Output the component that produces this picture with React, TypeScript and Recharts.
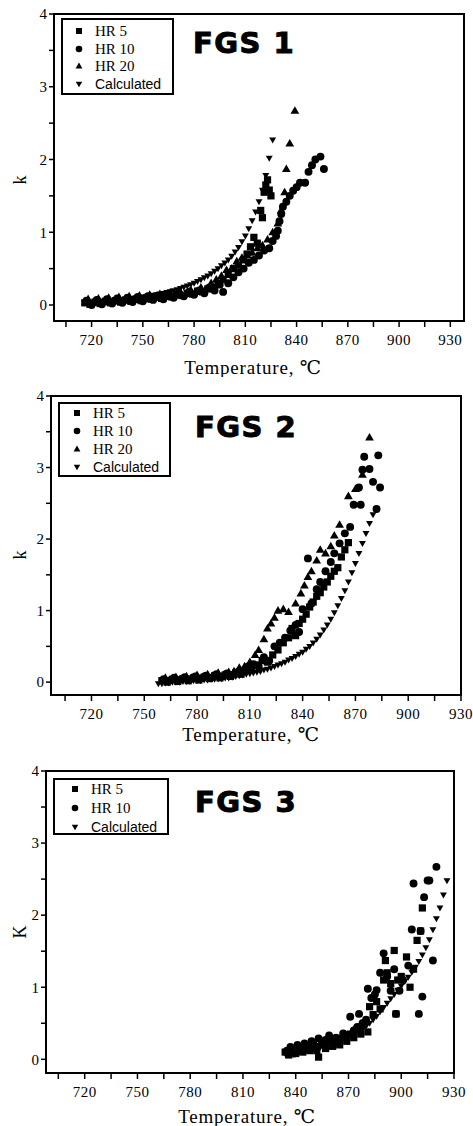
import React from 'react';
import { ScatterChart, Scatter, XAxis, YAxis, ReferenceArea, Legend } from 'recharts';

type Pt = [number, number];
type Kind = 'square' | 'circle' | 'up' | 'down';

// axis ticks (every 15 °C on x, every 0.5 on k)
const xTicks = [705, 720, 735, 750, 765, 780, 795, 810, 825, 840, 855, 870, 885, 900, 915, 930];
const yTicks = [0, 0.5, 1, 1.5, 2, 2.5, 3, 3.5, 4];

// ---- FGS 1 ----
const fgs1Hr5: Pt[] = [
  [716, 0.03], [719, 0.01], [722, 0.04], [725, 0.02], [728, 0.05], [731, 0.03], [734, 0.06], [737, 0.04],
  [740, 0.07], [743, 0.05], [746, 0.08], [749, 0.06], [752, 0.09], [755, 0.08], [758, 0.11], [761, 0.09],
  [764, 0.12], [767, 0.11], [770, 0.14], [773, 0.13], [776, 0.16], [779, 0.15], [782, 0.19], [785, 0.18],
  [788, 0.22], [791, 0.24], [794, 0.3], [797, 0.35], [800, 0.42], [803, 0.5], [806, 0.55], [809, 0.62],
  [811, 0.7], [813, 0.8], [815, 0.93], [817, 0.85], [819, 1.3], [820, 1.2], [821, 1.55], [822, 1.65],
  [823, 1.72], [824, 1.58], [825, 1.5],
];
const fgs1Hr10: Pt[] = [
  [717, 0.06], [720, 0.0], [723, 0.07], [726, 0.01], [729, 0.08], [732, 0.02], [735, 0.09], [738, 0.03],
  [741, 0.1], [744, 0.04], [747, 0.11], [750, 0.05], [753, 0.12], [756, 0.07], [759, 0.13], [762, 0.08],
  [765, 0.14], [768, 0.1], [771, 0.16], [774, 0.12], [777, 0.18], [780, 0.14], [783, 0.2], [786, 0.16],
  [789, 0.24], [792, 0.2], [795, 0.28], [797, 0.18], [800, 0.3], [803, 0.38], [806, 0.45], [809, 0.5],
  [812, 0.58], [815, 0.62], [818, 0.68], [821, 0.75], [824, 0.78], [826, 0.88], [828, 0.95], [829, 1.02],
  [830, 1.15], [831, 1.25], [832, 1.35], [834, 1.42], [836, 1.5], [838, 1.57], [840, 1.62], [842, 1.68],
  [845, 1.68], [847, 1.83], [849, 1.92], [851, 2.0], [854, 2.04], [856, 1.87],
];
const fgs1Hr20: Pt[] = [
  [718, 0.08], [721, 0.03], [724, 0.09], [727, 0.04], [730, 0.1], [733, 0.05], [736, 0.11], [739, 0.06],
  [742, 0.12], [745, 0.07], [748, 0.13], [751, 0.08], [754, 0.14], [757, 0.1], [760, 0.15], [763, 0.11],
  [766, 0.17], [769, 0.13], [772, 0.18], [775, 0.15], [778, 0.21], [781, 0.18], [784, 0.24], [787, 0.22],
  [790, 0.3], [793, 0.35], [796, 0.4], [799, 0.48], [802, 0.5], [805, 0.6], [808, 0.65], [811, 0.68],
  [814, 0.72], [817, 0.78], [820, 0.82], [823, 0.9], [826, 1.0], [829, 1.12], [831, 1.3], [833, 1.55],
  [834, 1.87], [836, 2.22], [839, 2.67],
];
const fgs1Calc: Pt[] = [
  [716, 0.03], [718, 0.035], [720, 0.04], [722, 0.042], [724, 0.046], [726, 0.05], [728, 0.055], [730, 0.06],
  [732, 0.064], [734, 0.068], [736, 0.072], [738, 0.076], [740, 0.08], [742, 0.086], [744, 0.092], [746, 0.098],
  [748, 0.104], [750, 0.11], [752, 0.118], [754, 0.126], [756, 0.134], [758, 0.142], [760, 0.15], [762, 0.16],
  [764, 0.172], [766, 0.184], [768, 0.197], [770, 0.21], [772, 0.227], [774, 0.245], [776, 0.262], [778, 0.28],
  [780, 0.3], [782, 0.325], [784, 0.35], [786, 0.375], [788, 0.4], [790, 0.43], [792, 0.465], [794, 0.5],
  [796, 0.54], [798, 0.58], [800, 0.62], [802, 0.67], [804, 0.73], [806, 0.79], [808, 0.87], [810, 0.95],
  [812, 1.05], [814, 1.16], [816, 1.28], [818, 1.42], [820, 1.58], [822, 1.78], [824, 2.02], [826, 2.27],
];

// ---- FGS 2 ----
const fgs2Hr5: Pt[] = [
  [760, 0.02], [763, 0.0], [766, 0.04], [769, 0.01], [772, 0.05], [775, 0.02], [778, 0.06], [781, 0.03],
  [784, 0.07], [787, 0.05], [790, 0.09], [793, 0.06], [796, 0.1], [799, 0.08], [802, 0.13], [805, 0.11],
  [808, 0.17], [811, 0.2], [814, 0.24], [817, 0.3], [820, 0.28], [823, 0.38], [826, 0.45], [829, 0.55],
  [832, 0.62], [834, 0.75], [836, 0.65], [838, 0.82], [840, 0.88], [842, 0.95], [844, 1.05], [846, 1.12],
  [848, 1.2], [850, 1.25], [852, 1.33], [854, 1.4], [856, 1.48], [858, 1.55], [860, 1.6], [862, 1.75],
  [864, 1.85], [866, 1.95],
];
const fgs2Hr10: Pt[] = [
  [761, 0.04], [764, 0.02], [767, 0.06], [770, 0.03], [773, 0.07], [776, 0.04], [779, 0.08], [782, 0.05],
  [785, 0.09], [788, 0.06], [791, 0.11], [794, 0.08], [797, 0.12], [800, 0.1], [803, 0.14], [806, 0.16],
  [809, 0.22], [812, 0.25], [815, 0.22], [818, 0.35], [821, 0.3], [824, 0.5], [827, 0.55], [830, 0.62],
  [833, 0.72], [836, 0.8], [838, 0.7], [840, 1.02], [843, 1.73], [845, 1.1], [848, 1.3], [850, 1.4],
  [853, 1.55], [856, 1.68], [858, 1.8], [861, 1.94], [864, 2.08], [867, 2.17], [869, 2.48], [872, 2.72],
  [873, 2.48], [874, 2.97], [875, 3.15], [878, 2.98], [880, 2.8], [882, 2.42], [883, 3.17], [884, 2.72],
];
const fgs2Hr20: Pt[] = [
  [762, 0.06], [765, 0.03], [768, 0.07], [771, 0.04], [774, 0.08], [777, 0.06], [780, 0.1], [783, 0.07],
  [786, 0.11], [789, 0.09], [792, 0.13], [795, 0.1], [798, 0.14], [801, 0.15], [804, 0.2], [807, 0.22],
  [810, 0.28], [813, 0.38], [815, 0.45], [818, 0.6], [820, 0.75], [822, 0.82], [824, 0.9], [826, 1.0],
  [829, 1.02], [832, 0.98], [836, 1.1], [839, 1.24], [841, 1.35], [843, 1.47], [845, 1.55], [848, 1.7],
  [850, 1.85], [853, 1.8], [856, 1.9], [858, 2.05], [861, 2.2], [866, 2.6], [870, 2.7], [874, 2.9],
  [878, 3.42],
];
const fgs2Calc: Pt[] = [
  [758, -0.02], [760, -0.02], [762, -0.01], [764, -0.01], [766, 0.0], [768, 0.0], [770, 0.0], [772, 0.01],
  [774, 0.01], [776, 0.01], [778, 0.02], [780, 0.02], [782, 0.02], [784, 0.03], [786, 0.03], [788, 0.04],
  [790, 0.04], [792, 0.05], [794, 0.05], [796, 0.06], [798, 0.06], [800, 0.07], [802, 0.08], [804, 0.09],
  [806, 0.1], [808, 0.11], [810, 0.12], [812, 0.13], [814, 0.14], [816, 0.15], [818, 0.17], [820, 0.18],
  [822, 0.2], [824, 0.22], [826, 0.24], [828, 0.26], [830, 0.28], [832, 0.31], [834, 0.33], [836, 0.36],
  [838, 0.39], [840, 0.42], [842, 0.46], [844, 0.5], [846, 0.55], [848, 0.6], [850, 0.66], [852, 0.73],
  [854, 0.8], [856, 0.88], [858, 0.97], [860, 1.07], [862, 1.17], [864, 1.28], [866, 1.4], [868, 1.53],
  [870, 1.66], [872, 1.8], [874, 1.94], [876, 2.08], [878, 2.22], [880, 2.34], [882, 2.43],
];

// ---- FGS 3 ----
const fgs3Hr5: Pt[] = [
  [834, 0.1], [836, 0.06], [838, 0.12], [840, 0.08], [842, 0.15], [844, 0.1], [846, 0.18], [848, 0.12],
  [850, 0.2], [852, 0.12], [853, 0.03], [855, 0.2], [857, 0.15], [859, 0.25], [861, 0.18], [863, 0.24],
  [865, 0.2], [867, 0.3], [869, 0.25], [871, 0.35], [873, 0.3], [875, 0.42], [877, 0.35], [879, 0.5],
  [881, 0.38], [882, 0.73], [884, 0.62], [886, 0.8], [888, 0.7], [890, 1.1], [891, 1.37], [892, 1.2],
  [894, 1.05], [896, 1.51], [897, 0.63], [898, 1.1], [900, 1.15], [903, 1.42], [905, 1.0], [907, 1.25],
  [909, 1.65], [911, 1.78], [912, 2.1],
];
const fgs3Hr10: Pt[] = [
  [835, 0.12], [837, 0.17], [839, 0.08], [841, 0.2], [843, 0.14], [845, 0.22], [847, 0.16], [849, 0.25],
  [851, 0.18], [853, 0.29], [855, 0.22], [857, 0.27], [859, 0.33], [861, 0.24], [863, 0.3], [865, 0.28],
  [867, 0.36], [869, 0.33], [871, 0.59], [873, 0.4], [875, 0.45], [876, 0.63], [878, 0.5], [880, 0.55],
  [881, 0.98], [883, 0.85], [885, 0.9], [886, 0.96], [888, 1.2], [890, 1.47], [892, 1.15], [894, 0.95],
  [896, 1.25], [897, 0.63], [899, 0.95], [901, 1.1], [904, 1.3], [906, 1.8], [907, 2.44], [910, 0.63],
  [911, 1.78], [912, 0.87], [913, 2.25], [915, 2.48], [916, 2.48], [918, 1.37], [920, 2.67],
];
const fgs3Calc: Pt[] = [
  [834, 0.08], [836, 0.09], [838, 0.1], [840, 0.1], [842, 0.11], [844, 0.12], [846, 0.13], [848, 0.14],
  [850, 0.15], [852, 0.16], [854, 0.17], [856, 0.18], [858, 0.19], [860, 0.21], [862, 0.22], [864, 0.24],
  [866, 0.26], [868, 0.28], [870, 0.3], [872, 0.33], [874, 0.36], [876, 0.39], [878, 0.42], [880, 0.46],
  [882, 0.5], [884, 0.55], [886, 0.6], [888, 0.66], [890, 0.72], [892, 0.78], [894, 0.84], [896, 0.9],
  [898, 0.96], [900, 1.02], [902, 1.08], [904, 1.14], [906, 1.21], [908, 1.28], [910, 1.36], [912, 1.45],
  [914, 1.55], [916, 1.66], [918, 1.8], [920, 1.95], [922, 2.1], [924, 2.28], [926, 2.48],
];

const SERIF = '"Liberation Serif", "DejaVu Serif", serif';
const SANS = '"Liberation Sans", Arial, sans-serif';

interface Series { name: string; kind: Kind; size: number; data: Pt[] }

interface PanelCfg {
  title: string;
  top: number;
  height: number;
  plot: { left: number; right: number; top: number; bottom: number };
  xDomain: [number, number];
  yDomain: [number, number];
  yLabel: string;
  yLabelY: number;
  xLabelX: number;
  xLabelY: number;
  titleAt: { left: number; top: number };
  legend: { left: number; top: number; width: number; height: number; rowY: number; rowGap: number; markX: number; textX: number };
  series: Series[];
}

const marker = (kind: Kind, cx: number, cy: number, s: number) => {
  switch (kind) {
    case 'square':
      return <rect x={cx - s} y={cy - s} width={s * 2} height={s * 2} fill="#000" />;
    case 'circle':
      return <circle cx={cx} cy={cy} r={s * 1.1} fill="#000" />;
    case 'up':
      return <path d={`M${cx},${cy - s * 1.2}L${cx + s * 1.15},${cy + s * 0.8}L${cx - s * 1.15},${cy + s * 0.8}Z`} fill="#000" />;
    default:
      return <path d={`M${cx},${cy + s * 1.2}L${cx + s * 1.15},${cy - s * 0.8}L${cx - s * 1.15},${cy - s * 0.8}Z`} fill="#000" />;
  }
};

const panels: PanelCfg[] = [
  {
    title: 'FGS 1',
    top: 0,
    height: 377,
    plot: { left: 54, right: 464, top: 14, bottom: 321 },
    xDomain: [698, 938],
    yDomain: [-0.22, 4],
    yLabel: 'k',
    yLabelY: 180,
    xLabelX: 253,
    xLabelY: 374,
    titleAt: { left: 193, top: 29 },
    legend: { left: 61, top: 18, width: 113, height: 77, rowY: 13, rowGap: 17.7, markX: 18, textX: 34 },
    series: [
      { name: 'HR 5', kind: 'square', size: 3.6, data: fgs1Hr5 },
      { name: 'HR 10', kind: 'circle', size: 3.6, data: fgs1Hr10 },
      { name: 'HR 20', kind: 'up', size: 3.8, data: fgs1Hr20 },
      { name: 'Calculated', kind: 'down', size: 3, data: fgs1Calc },
    ],
  },
  {
    title: 'FGS 2',
    top: 375,
    height: 375,
    plot: { left: 51, right: 461, top: 21, bottom: 320 },
    xDomain: [697, 930],
    yDomain: [-0.18, 4],
    yLabel: 'k',
    yLabelY: 180,
    xLabelX: 251,
    xLabelY: 366,
    titleAt: { left: 195, top: 38 },
    legend: { left: 58, top: 27, width: 113, height: 75, rowY: 11, rowGap: 18, markX: 19, textX: 35 },
    series: [
      { name: 'HR 5', kind: 'square', size: 3.6, data: fgs2Hr5 },
      { name: 'HR 10', kind: 'circle', size: 3.6, data: fgs2Hr10 },
      { name: 'HR 20', kind: 'up', size: 3.8, data: fgs2Hr20 },
      { name: 'Calculated', kind: 'down', size: 3, data: fgs2Calc },
    ],
  },
  {
    title: 'FGS 3',
    top: 750,
    height: 376,
    plot: { left: 46, right: 454, top: 21, bottom: 323 },
    xDomain: [698, 930],
    yDomain: [-0.19, 4],
    yLabel: 'K',
    yLabelY: 182,
    xLabelX: 247,
    xLabelY: 373,
    titleAt: { left: 195, top: 38 },
    legend: { left: 53, top: 28, width: 116, height: 57, rowY: 11, rowGap: 19, markX: 22, textX: 38 },
    series: [
      { name: 'HR 5', kind: 'square', size: 3.6, data: fgs3Hr5 },
      { name: 'HR 10', kind: 'circle', size: 3.6, data: fgs3Hr10 },
      { name: 'Calculated', kind: 'down', size: 3, data: fgs3Calc },
    ],
  },
];

const toRows = (pts: Pt[]) => pts.map(([t, k]) => ({ t, k }));

const LegendBox = ({ cfg }: { cfg: PanelCfg }) => {
  const lg = cfg.legend;
  return (
    <div style={{ position: 'relative', width: lg.width, height: lg.height, boxSizing: 'border-box', border: '2px solid #000', background: '#fff' }}>
      {cfg.series.map((s, i) => {
        const cy = lg.rowY + i * lg.rowGap - 2;
        return (
          <div key={s.name} style={{ position: 'absolute', left: 0, top: cy - 9, height: 18, width: '100%' }}>
            <svg width={10} height={10} style={{ position: 'absolute', left: lg.markX - 2 - 5, top: 4 }}>
              {marker(s.kind, 5, 5, s.kind === 'down' ? 2.8 : 3)}
            </svg>
            <span
              style={{
                position: 'absolute',
                left: lg.textX - 2,
                top: 0,
                lineHeight: '18px',
                whiteSpace: 'nowrap',
                fontFamily: s.name === 'Calculated' ? SANS : SERIF,
                fontSize: s.name === 'Calculated' ? 14 : 15,
                color: '#000',
              }}
            >
              {s.name}
            </span>
          </div>
        );
      })}
    </div>
  );
};

const Panel = ({ cfg }: { cfg: PanelCfg }) => {
  const { plot } = cfg;
  const midY = cfg.yLabelY;
  return (
    <div style={{ position: 'absolute', left: 0, top: cfg.top, width: 473, height: cfg.height }}>
      <ScatterChart
        width={473}
        height={cfg.height}
        margin={{ top: plot.top, right: 473 - plot.right, left: 0, bottom: 0 }}
      >
        <XAxis
          type="number"
          dataKey="t"
          domain={cfg.xDomain}
          allowDataOverflow
          ticks={xTicks}
          interval={0}
          height={cfg.height - plot.bottom}
          tickSize={6}
          tickMargin={7}
          tickFormatter={(v: number) => (v % 30 === 0 ? String(v) : '')}
          tick={{ fill: '#000', fontSize: 15, fontFamily: SERIF, letterSpacing: 0.5 }}
          axisLine={{ stroke: '#000', strokeWidth: 1.5 }}
          tickLine={{ stroke: '#000', strokeWidth: 1.5 }}
          label={{
            content: () => (
              <text x={cfg.xLabelX} y={cfg.xLabelY} textAnchor="middle" fontFamily={SERIF} fontSize={19} letterSpacing={0.8} fill="#000">
                Temperature, ℃
              </text>
            ),
          }}
        />
        <YAxis
          type="number"
          dataKey="k"
          domain={cfg.yDomain}
          allowDataOverflow
          ticks={yTicks}
          interval={0}
          width={plot.left}
          tickSize={5}
          tickMargin={2}
          tickFormatter={(v: number) => (Number.isInteger(v) ? String(v) : '')}
          tick={{ fill: '#000', fontSize: 15, fontFamily: SERIF }}
          axisLine={{ stroke: '#000', strokeWidth: 1.5 }}
          tickLine={{ stroke: '#000', strokeWidth: 1.5 }}
          label={{
            content: () => (
              <text
                x={20}
                y={midY}
                textAnchor="middle"
                dominantBaseline="central"
                transform={`rotate(-90, 20, ${midY})`}
                fontFamily={SERIF}
                fontSize={18}
                fill="#000"
              >
                {cfg.yLabel}
              </text>
            ),
          }}
        />
        <ReferenceArea
          x1={cfg.xDomain[0]}
          x2={cfg.xDomain[1]}
          y1={cfg.yDomain[0]}
          y2={cfg.yDomain[1]}
          fill="none"
          stroke="#000"
          strokeWidth={2}
          ifOverflow="visible"
        />
        {cfg.series.map((s) => (
          <Scatter
            key={s.name}
            name={s.name}
            data={toRows(s.data)}
            fill="#000"
            isAnimationActive={false}
            shape={(p: any) => marker(s.kind, p.cx, p.cy, s.size)}
          />
        ))}
        <Legend
          layout="vertical"
          align="center"
          verticalAlign="middle"
          wrapperStyle={{ left: cfg.legend.left, top: cfg.legend.top, width: cfg.legend.width, height: cfg.legend.height }}
          content={() => <LegendBox cfg={cfg} />}
        />
      </ScatterChart>
      {/* panel caption, heavy rounded face */}
      <div
        style={{
          position: 'absolute',
          left: cfg.titleAt.left,
          top: cfg.titleAt.top,
          fontFamily: '"DejaVu Sans", sans-serif',
          fontWeight: 'bold',
          fontSize: 29,
          lineHeight: '29px',
          letterSpacing: 1.5,
          WebkitTextStroke: '1px #000',
          whiteSpace: 'nowrap',
          color: '#000',
        }}
      >
        {cfg.title}
      </div>
    </div>
  );
};

export default function App() {
  return (
    <div style={{ position: 'absolute', left: 0, top: 0, width: 473, height: 1126, background: '#fff', overflow: 'hidden' }}>
      {panels.map((p) => (
        <Panel key={p.title} cfg={p} />
      ))}
    </div>
  );
}
